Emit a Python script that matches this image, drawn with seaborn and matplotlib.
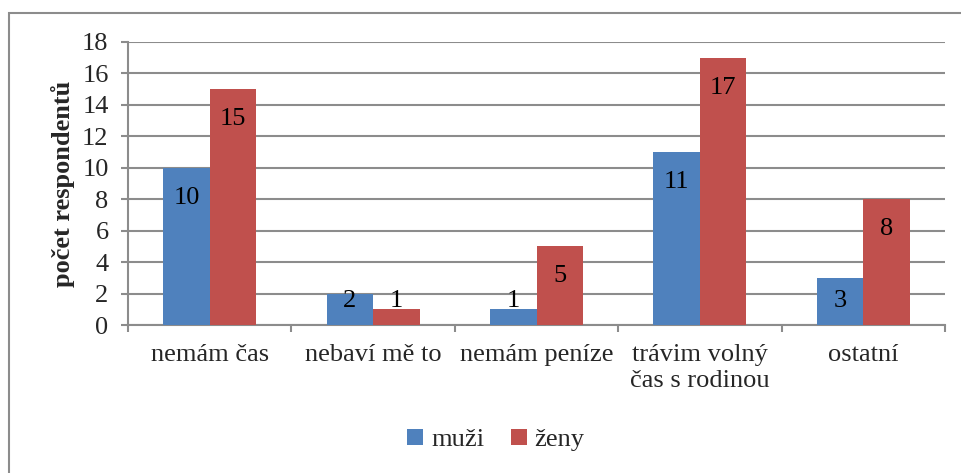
import matplotlib
matplotlib.use('Agg')
import matplotlib.pyplot as plt
from matplotlib.patches import Rectangle
from matplotlib.ticker import FixedLocator, NullFormatter
import seaborn as sns
import pandas as pd

# data
categories = ['nemám čas', 'nebaví mě to', 'nemám peníze',
              'trávim volný\nčas s rodinou', 'ostatní']
muzi = [10, 2, 1, 11, 3]
zeny = [15, 1, 5, 17, 8]
series = ['muži', 'ženy']
colors = ['#4F81BD', '#C0504D']

df = pd.DataFrame({
    'kategorie': categories * 2,
    'pohlavi': [series[0]] * len(categories) + [series[1]] * len(categories),
    'pocet': muzi + zeny,
})

sns.set_style('white')
plt.rcParams['font.family'] = ['Liberation Serif', 'DejaVu Serif']
fs = 19

fig = plt.figure(figsize=(9.61, 4.73), dpi=100)
ax = fig.add_axes([128 / 961, 1 - 325 / 473, (945 - 128) / 961, (325 - 42) / 473])

sns.barplot(data=df, x='kategorie', y='pocet', hue='pohlavi',
            palette=colors, width=0.57, saturation=1, ax=ax,
            edgecolor='none', linewidth=0, zorder=3)

# value labels inside the bar tops
for cont in ax.containers:
    for bar in cont:
        v = bar.get_height()
        xc = bar.get_x() + bar.get_width() / 2
        ax.text(xc, max(v - 1.9, 1.5), f'{v:.0f}', ha='center', va='center',
                fontsize=fs, color='black', zorder=4)

ax.set_ylim(0, 18)
ax.set_xlim(-0.5, len(categories) - 0.5)
ax.set_yticks(range(0, 19, 2))
ax.yaxis.grid(True, color='#8c8c8c', linewidth=1.5, zorder=0)
ax.set_axisbelow(True)

for s in ['top', 'right']:
    ax.spines[s].set_visible(False)
for s in ['left', 'bottom']:
    ax.spines[s].set_color('#8c8c8c')
    ax.spines[s].set_linewidth(1.5)

ax.tick_params(axis='y', which='major', length=5, width=1.5, color='#8c8c8c',
               left=True, labelsize=fs, pad=9)
ax.tick_params(axis='x', which='major', length=0, labelsize=fs, pad=14)
ax.xaxis.set_minor_locator(FixedLocator([i - 0.5 for i in range(len(categories) + 1)]))
ax.xaxis.set_minor_formatter(NullFormatter())
ax.tick_params(axis='x', which='minor', length=5, width=1.5, color='#8c8c8c',
               bottom=True)

ax.set_xlabel('')
ax.set_ylabel('počet respondentů', fontsize=fs, fontweight='bold', labelpad=5)

sns.move_legend(ax, 'center', bbox_to_anchor=(496 / 961, 1 - 440 / 473),
                bbox_transform=fig.transFigure, ncol=2, frameon=False,
                title=None, fontsize=fs, handlelength=0.6, handleheight=0.6,
                handletextpad=0.3, columnspacing=1.0)

# outer chart border
fig.patches.append(Rectangle((9 / 961, -0.05), 1.0, 1 - 13 / 473 + 0.05,
                             transform=fig.transFigure, fill=False,
                             edgecolor='#8c8c8c', linewidth=1.5))

fig.savefig('out.png', dpi=100)
